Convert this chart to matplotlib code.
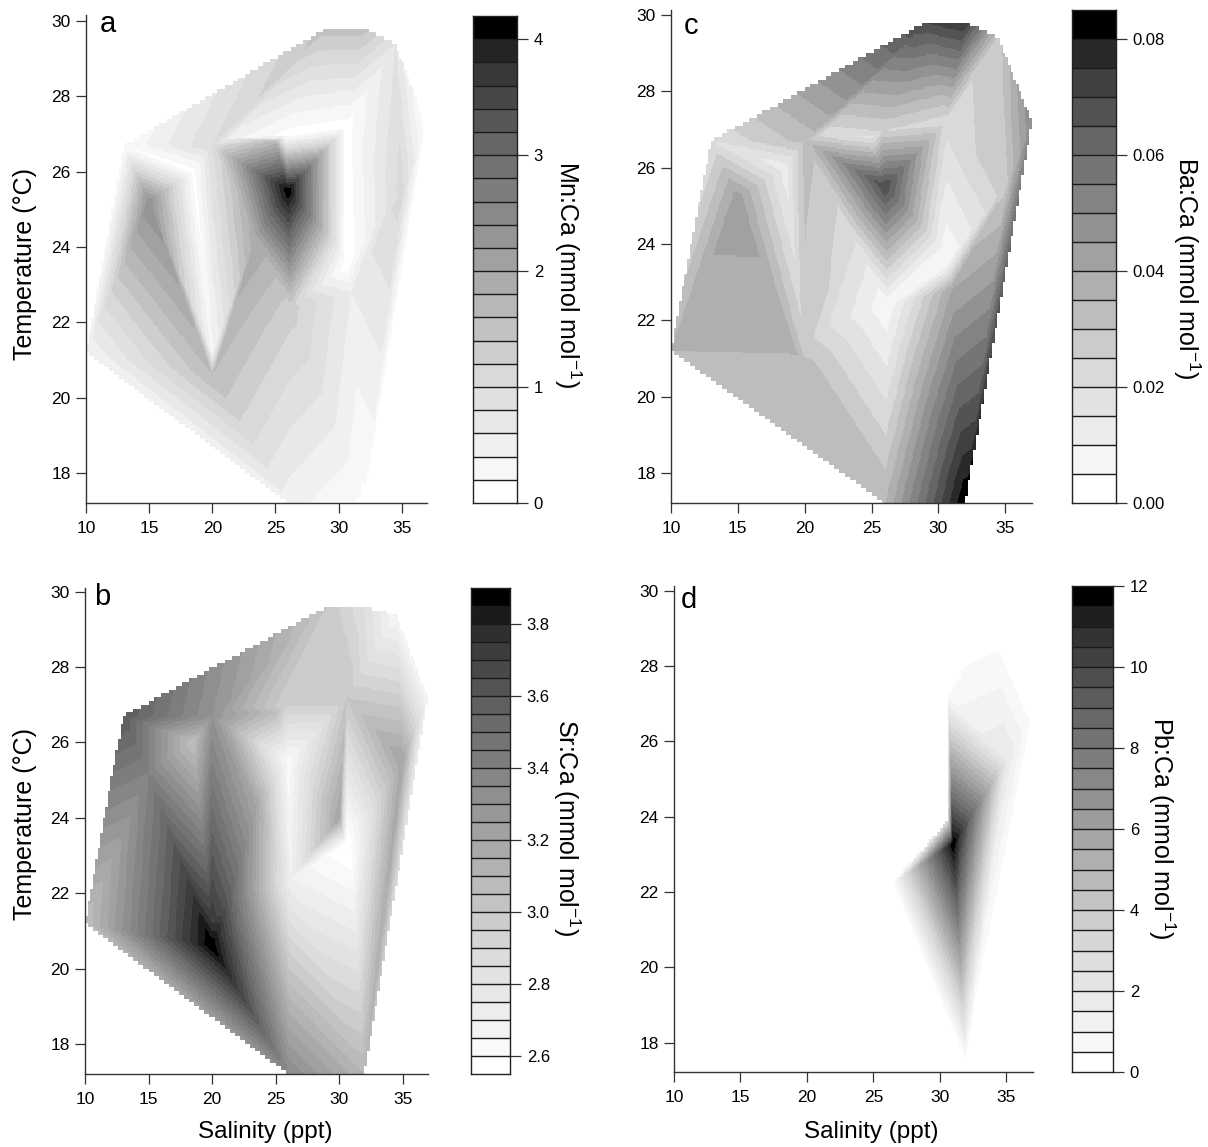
import numpy as np
import matplotlib
matplotlib.use("Agg")
import matplotlib.pyplot as plt
from matplotlib.colors import ListedColormap, BoundaryNorm
from matplotlib.tri import Triangulation, LinearTriInterpolator

plt.rcParams['font.family'] = ['Liberation Sans', 'DejaVu Sans']
plt.rcParams['mathtext.fontset'] = 'custom'
plt.rcParams['mathtext.rm'] = 'Liberation Sans'
plt.rcParams['mathtext.default'] = 'regular'

W, H = 1208, 1147

# shared sample stations (salinity, temperature)
sal = [10, 13, 15, 20, 20, 26, 32, 26, 26.2, 30.6, 30.6, 25, 29, 32, 34.5, 37, 35, 25.8, 18.5, 20, 21.5, 30, 23.5, 31, 21.2]
tmp = [21.2, 26.7, 25.2, 26.7, 20.6, 17.2, 17.2, 25.5, 22.4, 23.5, 27.2, 26.8, 29.8, 29.8, 29.4, 27.2, 25.5, 26.95, 26.0, 21.2, 26.9, 24.0, 24.3, 22.8, 21.8]
tmp_b = [21.2, 26.7, 25.2, 26.7, 20.6, 17.2, 17.2, 25.5, 22.4, 23.3, 27.2, 26.8, 29.6, 29.6, 29.4, 27.2, 25.5, 26.95, 26.0, 21.2, 26.9, 24.0, 24.3, 22.6, 21.8]
tri = [(0,1,2),(0,2,4),(2,4,19),(2,19,18),(1,2,18),(1,18,3),(18,19,3),(19,3,22),(19,22,24),(22,8,24),(19,4,24),(4,8,24),(4,5,8),(0,4,5),
       (3,22,7),(22,8,7),(3,7,11),(3,11,20),(20,11,17),(3,20,12),(20,17,12),(1,3,12),(11,7,17),(7,21,10),(7,10,17),
       (10,12,17),(10,13,12),(10,14,13),(10,16,14),(16,15,14),(6,16,15),(23,9,16),(6,23,16),(9,10,16),(9,10,21),
       (8,9,21),(7,8,21),(5,6,8),(6,8,23),(8,9,23)]

mn = [0.4, 0.2, 2.4, 1.0, 1.6, 0.5, 0.15, 4.2, 1.3, 0.05, 0.1, 1.7, 1.5, 1.5, 0.8, 0.05, 1.1, 0.1, 0.1, 0.35, 0.5, 0.6, 2.0, 0.6, 1.7]
sr = [3.05, 3.6, 3.4, 3.3, 3.9, 3.35, 3.1, 2.62, 2.7, 2.55, 3.0, 3.05, 3.0, 2.85, 2.65, 2.65, 3.2, 2.95, 3.05, 3.75, 3.2, 3.2, 3.2, 2.6, 3.6]
ba = [0.035, 0.02, 0.043, 0.032, 0.034, 0.035, 0.085, 0.07, 0.006, 0.005, 0.022, 0.018, 0.07, 0.075, 0.028, 0.05, 0.028, 0.025, 0.012, 0.028, 0.022, 0.012, 0.022, 0.04, 0.022]

# Pb:Ca is non-zero only in a small part of the range
pb_sal = [26.3, 32, 30.6, 30.6, 31, 35, 34.2, 36.8]
pb_tmp = [22.2, 17.3, 23.9, 27.2, 23.3, 25.5, 29.4, 26.5]
pb_val = [0, 0, 3, 0.8, 12, 2, 0, 0.5]
pb_tri = [(0,1,4),(0,4,2),(2,4,3),(4,3,5),(4,1,5),(3,5,6),(5,6,7),(1,5,7)]

xticks = [10, 15, 20, 25, 30, 35]
yticks = [18, 20, 22, 24, 26, 28, 30]
mn_ticks = [0, 1, 2, 3, 4]
sr_ticks = [2.6, 2.8, 3.0, 3.2, 3.4, 3.6, 3.8]
ba_ticks = [0.00, 0.02, 0.04, 0.06, 0.08]
pb_ticks = [0, 2, 4, 6, 8, 10, 12]

def axpx(l, r, t, b):
    return [l / W, 1 - b / H, (r - l) / W, (b - t) / H]

def greys(n):
    t = np.linspace(0, 1, n)
    g = np.interp(t, [0, 0.25, 0.5, 0.75, 0.9, 0.95, 1], [1.0, 0.85, 0.63, 0.40, 0.22, 0.14, 0.0])
    return ListedColormap([str(v) for v in g])

def field(ax, xs, ys, zs, triangles, levels):
    cm = greys(len(levels) - 1)
    norm = BoundaryNorm(levels, cm.N, clip=True)
    t = Triangulation(xs, ys, triangles)
    f = LinearTriInterpolator(t, np.asarray(zs, float))
    # coarse grid gives the stepped outline, fine grid the smooth bands
    xe = np.linspace(10, 37.2, 137)
    ye = np.linspace(17.2, 29.9, 128)
    xc, yc = 0.5 * (xe[1:] + xe[:-1]), 0.5 * (ye[1:] + ye[:-1])
    zc = f(*np.meshgrid(xc, yc))
    ax.pcolormesh(xe, ye, zc, cmap=cm, norm=norm, rasterized=True)

    xf = np.linspace(10, 37.2, 136 * 3 + 1)
    yf = np.linspace(17.2, 29.9, 127 * 3 + 1)
    xfc, yfc = 0.5 * (xf[1:] + xf[:-1]), 0.5 * (yf[1:] + yf[:-1])
    zf = f(*np.meshgrid(xfc, yfc))
    ix = np.clip(np.searchsorted(xe, xfc) - 1, 0, len(xc) - 1)
    iy = np.clip(np.searchsorted(ye, yfc) - 1, 0, len(yc) - 1)
    outside = np.ma.getmaskarray(zc)[np.ix_(iy, ix)]
    zf = np.ma.array(zf, mask=np.ma.getmaskarray(zf) | outside)
    ax.pcolormesh(xf, yf, zf, cmap=cm, norm=norm, rasterized=True)

def draw(box, ylim, xs, ys, zs, triangles, levels, letter, letter_px):
    ax = fig.add_axes(axpx(*box))
    field(ax, xs, ys, zs, triangles, levels)
    ax.set_xlim(10, 37)
    ax.set_ylim(*ylim)
    ax.set_xticks(xticks)
    ax.set_yticks(yticks)
    ax.tick_params(labelsize=12.5, length=7, width=0.9, color='#333333', pad=4)
    ax.tick_params(axis='x', pad=6)
    for s in ('top', 'right'):
        ax.spines[s].set_visible(False)
    for s in ('left', 'bottom'):
        ax.spines[s].set_linewidth(1.0)
        ax.spines[s].set_color('#333333')
    fig.text(letter_px[0] / W, 1 - letter_px[1] / H, letter, fontsize=21, ha='center', va='center')
    return ax

def cbar(box, vmin, vmax, nb, ticks, fmt, label, label_px):
    ax = fig.add_axes(axpx(*box))
    lev = np.linspace(vmin, vmax, nb + 1)
    ax.pcolormesh([0, 1], lev, np.arange(nb).reshape(-1, 1), cmap=greys(nb), vmin=-0.5, vmax=nb - 0.5,
                  edgecolors='none')
    ax.hlines(lev[1:-1], 0, 1, color='#1a1a1a', lw=1.0)
    ax.set_xlim(0, 1)
    ax.set_ylim(vmin, vmax)
    ax.set_xticks([])
    ax.yaxis.tick_right()
    ax.set_yticks(ticks)
    ax.set_yticklabels([fmt.format(v) for v in ticks])
    ax.tick_params(labelsize=12, length=8, width=0.9, color='#333333', pad=4)
    for s in ax.spines.values():
        s.set_linewidth(1.0)
        s.set_color('#222222')
    fig.text(label_px[0] / W, 1 - label_px[1] / H, label, rotation=-90, fontsize=18,
             ha='center', va='center')

fig = plt.figure(figsize=(W / 100, H / 100), dpi=100)

draw((86, 427, 15, 503), (17.2, 30.16), sal, tmp, mn, tri, np.linspace(0, 4.2, 22), 'a', (108, 24))
draw((85, 428, 588, 1074), (17.2, 30.1), sal, tmp_b, sr, tri, np.linspace(2.55, 3.9, 28), 'b', (102, 597))
draw((671, 1032, 10, 503), (17.21, 30.13), sal, tmp, ba, tri, np.linspace(0, 0.085, 18), 'c', (691, 26))
draw((674, 1033, 586, 1072), (17.22, 30.13), pb_sal, pb_tmp, pb_val, pb_tri, np.linspace(0, 12, 25), 'd', (689, 600))

cbar((473, 517, 16, 503), 0, 4.2, 21, mn_ticks, '{:d}', 'Mn:Ca (mmol mol$^{-1}$)', (568, 275))
cbar((471, 510, 588, 1074), 2.55, 3.9, 27, sr_ticks, '{:.1f}', 'Sr:Ca (mmol mol$^{-1}$)', (567, 828))
cbar((1072, 1116, 10, 503), 0, 0.085, 17, ba_ticks, '{:.2f}', 'Ba:Ca (mmol mol$^{-1}$)', (1187, 268))
cbar((1072, 1113, 586, 1072), 0, 12, 24, pb_ticks, '{:d}', 'Pb:Ca (mmol mol$^{-1}$)', (1162, 828))

fig.text(25 / W, 1 - 264 / H, 'Temperature (°C)', rotation=90, fontsize=18, ha='center', va='center')
fig.text(25 / W, 1 - 824 / H, 'Temperature (°C)', rotation=90, fontsize=18, ha='center', va='center')
fig.text(265 / W, 1 - 1132 / H, 'Salinity (ppt)', fontsize=17.5, ha='center', va='center')
fig.text(871 / W, 1 - 1132 / H, 'Salinity (ppt)', fontsize=17.5, ha='center', va='center')

fig.savefig('out.png', dpi=100)
